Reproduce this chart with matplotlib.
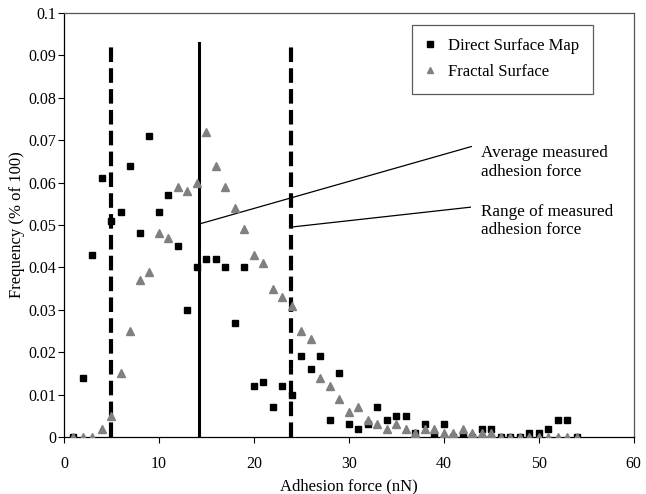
import matplotlib.pyplot as plt

# adhesion force bins (nN)
force = list(range(1, 55))

direct_map = [0.000, 0.014, 0.043, 0.061, 0.051, 0.053, 0.064, 0.048, 0.071, 0.053,
              0.057, 0.045, 0.030, 0.040, 0.042, 0.042, 0.040, 0.027, 0.040, 0.012,
              0.013, 0.007, 0.012, 0.010, 0.019, 0.016, 0.019, 0.004, 0.015, 0.003,
              0.002, 0.003, 0.007, 0.004, 0.005, 0.005, 0.001, 0.003, 0.000, 0.003,
              0.000, 0.000, 0.000, 0.002, 0.002, 0.000, 0.000, 0.000, 0.001, 0.001,
              0.002, 0.004, 0.004, 0.000]

fractal = [0.000, 0.000, 0.000, 0.002, 0.005, 0.015, 0.025, 0.037, 0.039, 0.048,
           0.047, 0.059, 0.058, 0.060, 0.072, 0.064, 0.059, 0.054, 0.049, 0.043,
           0.041, 0.035, 0.033, 0.031, 0.025, 0.023, 0.014, 0.012, 0.009, 0.006,
           0.007, 0.004, 0.003, 0.002, 0.003, 0.002, 0.001, 0.002, 0.002, 0.001,
           0.001, 0.002, 0.001, 0.001, 0.001, 0.000, 0.000, 0.000, 0.000, 0.000,
           0.000, 0.000, 0.000, 0.000]

avg_force = 14.2
range_low = 5.0
range_high = 23.9

plt.rcParams['font.family'] = ['Liberation Serif', 'DejaVu Serif']

fig = plt.figure(figsize=(6.46, 4.94), dpi=100)
ax = fig.add_axes([0.099, 0.1154, 0.882, 0.8583])

ax.plot(force, direct_map, 's', color='black', markersize=5, label='Direct Surface Map', zorder=3)
ax.plot(force, fractal, '^', color='#808080', markersize=6, label='Fractal Surface', zorder=3)

ax.plot([range_low, range_low], [0, 0.093], color='black', lw=3, dashes=(3.5, 1.5))
ax.plot([range_high, range_high], [0, 0.092], color='black', lw=3, dashes=(3.5, 1.5))
ax.plot([avg_force, avg_force], [0, 0.093], color='black', lw=2.2)

# leader lines to the notes
ax.plot([avg_force, 42.9], [0.0502, 0.0685], color='black', lw=0.9)
ax.plot([range_high, 42.8], [0.0495, 0.0542], color='black', lw=0.9)
ax.text(43.9, 0.0647, 'Average measured\nadhesion force', fontsize=12.3,
        va='center', ha='left', linespacing=1.2)
ax.text(43.9, 0.0510, 'Range of measured\nadhesion force', fontsize=12.3,
        va='center', ha='left', linespacing=1.2)

ax.set_xlim(0, 60)
ax.set_ylim(0, 0.1)
ax.set_xticks(range(0, 61, 10))
ax.set_yticks([i / 100 for i in range(11)])
ax.set_yticklabels(['0', '0.01', '0.02', '0.03', '0.04', '0.05', '0.06', '0.07', '0.08', '0.09', '0.1'])
ax.tick_params(labelsize=11.5, length=4, width=0.8, direction='out')
ax.tick_params(axis='y', pad=1.5)
ax.tick_params(axis='x', pad=10)

for s in ['top', 'right']:
    ax.spines[s].set_color('#555555')
for s in ax.spines.values():
    s.set_linewidth(0.9)

ax.set_xlabel('Adhesion force (nN)', fontsize=12)
ax.xaxis.set_label_coords(0.5, -0.098)
ax.set_ylabel('Frequency (% of 100)', fontsize=12)
ax.yaxis.set_label_coords(-0.069, 0.5)

leg = ax.legend(loc='upper right', bbox_to_anchor=(0.928, 0.972), fontsize=12,
                frameon=True, fancybox=False, edgecolor='#333333', handlelength=0.6,
                handletextpad=0.8, borderpad=0.8, labelspacing=0.6, markerscale=0.8,
                borderaxespad=0)
leg.get_frame().set_linewidth(0.9)

fig.savefig('out.png', dpi=100)
